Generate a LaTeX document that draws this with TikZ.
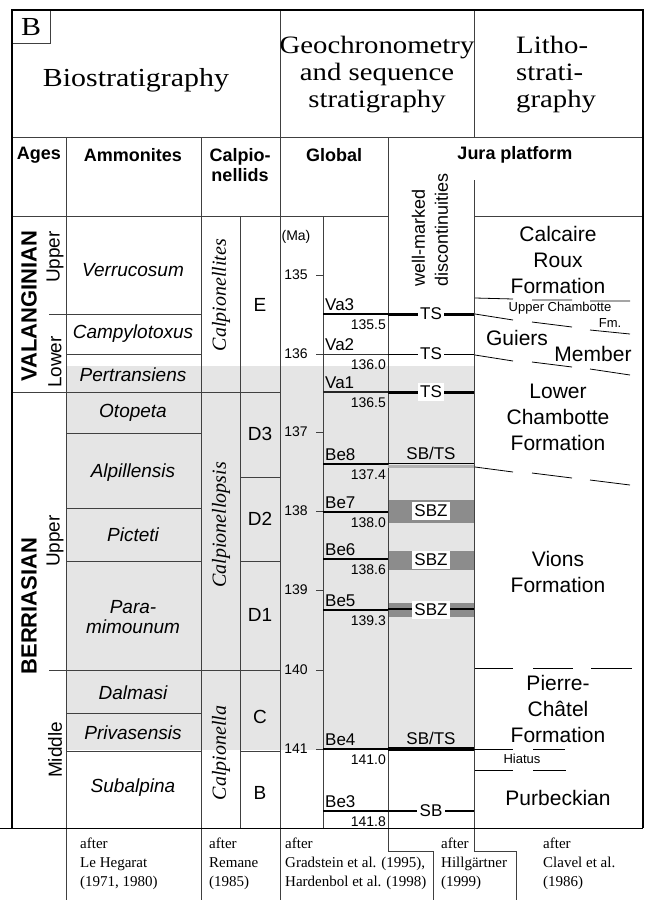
\documentclass[tikz,border=0pt]{standalone}
\usepackage{fontspec}
\setmainfont{Liberation Serif}
\newfontfamily\serw[FakeStretch=1.15]{Liberation Serif}
\newfontfamily\sans{Liberation Sans}
\newcommand{\fsz}[2]{\fontsize{#1}{#2}\selectfont}
\tikzset{
 ln/.style={line width=0.9pt, draw=black!75},
 frm/.style={line width=1.3pt, draw=black},
 hdr/.style={font=\serw\fsz{25}{27}, align=center, inner sep=0pt},
 colh/.style={font=\sans\bfseries\fsz{18}{20}, align=center, inner sep=0pt},
 amm/.style={font=\sans\itshape\fsz{19}{20}, align=center, inner sep=0pt},
 zone/.style={font=\sans\fsz{19}{20}, inner sep=0pt},
 genus/.style={font=\itshape\fsz{20}{20}, rotate=90, inner sep=0pt},
 agebig/.style={font=\sans\bfseries\fsz{22}{22}, rotate=90, inner sep=0pt},
 agesub/.style={font=\sans\fsz{19}{19}, rotate=90, inner sep=0pt},
 tick/.style={font=\sans\fsz{14}{14}, inner sep=0pt},
 seqn/.style={font=\sans\fsz{17}{17}, inner sep=0pt, anchor=base west},
 seqv/.style={font=\sans\fsz{14}{14}, inner sep=0pt, anchor=base east},
 jlab/.style={font=\sans\fsz{17}{17}, fill=white, inner xsep=2.5pt, inner ysep=2.5pt},
 jtop/.style={font=\sans\fsz{17}{17}, inner sep=0pt},
 lith/.style={font=\sans\fsz{21}{26}, align=center, inner sep=0pt},
 lsm/.style={font=\sans\fsz{13}{13}, inner sep=0pt},
 cite/.style={font=\fsz{15}{19}, align=left, anchor=north west, inner sep=0pt},
 dsh/.style={line width=0.8pt, draw=black},
}
\begin{document}
\begin{tikzpicture}[x=1pt,y=-1pt]
\useasboundingbox (0,0) rectangle (647,900);
% shading
\fill[black!10] (66,366) rectangle (474,750);
\fill[black!45] (388,500) rectangle (474,523);
\fill[black!45] (388,551) rectangle (474,570);
\fill[black!45] (388,603) rectangle (474,617);
% header lines
\draw[ln] (12,137) -- (643,137);
\draw[ln] (280,10) -- (280,137);
\draw[ln] (474,10) -- (474,137);
\draw[ln] (12,10) rectangle (50,43);
\draw[ln] (12,216) -- (388,216);
\draw[ln] (474,216) -- (643,216);
% column verticals
\draw[ln] (66,137) -- (66,900);
\draw[ln] (201,137) -- (201,900);
\draw[ln] (280,137) -- (280,900);
\draw[ln] (388,137) -- (388,851) -- (433,851) -- (433,900);
\draw[ln] (474,180) -- (474,851) -- (516,851) -- (516,900);
\draw[ln] (240,216) -- (240,828);
\draw[ln] (323,216) -- (323,828);
% ages column
\draw[ln] (12,392) -- (280,392);
\draw[ln] (49,314) -- (201,314);
\draw[ln] (49,670) -- (280,670);
% ammonites
\foreach \yy in {354,433,508,561,713,751} \draw[ln] (66,\yy) -- (201,\yy);
% calpionellid zones
\foreach \yy in {477,561,751} \draw[ln] (240,\yy) -- (280,\yy);
% ticks
\foreach \yy/\lab in {275/135,354/136,432/137,511/138,590/139,670/140,749/141}{
  \draw[ln] (316,\yy) -- (323,\yy);
  \node[tick] at (296,\yy) {\lab};
}
\node[tick] at (296,237) {(Ma)};
% sequences global
\draw[line width=1.6pt] (323,314) -- (388,314);
\draw[line width=0.9pt, black!80] (323,354) -- (388,354);
\draw[line width=1.6pt, black!85] (323,392) -- (388,392);
\foreach \yy in {464,512,559,610,749,811} \draw[line width=1.4pt] (323,\yy) -- (388,\yy);
\foreach \yy/\nm/\vl in {314/Va3/135.5,354/Va2/136.0,392/Va1/136.5,464/Be8/137.4,512/Be7/138.0,559/Be6/138.6,610/Be5/139.3,749/Be4/141.0,811/Be3/141.8}{
  \node[seqn] at (325,\yy-3.5) {\nm};
  \node[seqv] at (386,\yy+15) {\vl};
}
% Jura discontinuities
\draw[line width=3pt] (388,314) -- (474,314);
\draw[line width=0.9pt] (388,354) -- (474,354);
\draw[line width=3pt] (388,392) -- (474,392);
\draw[line width=2.5pt, black!30] (388,466.5) -- (474,466.5);
\draw[line width=1.5pt] (388,463.5) -- (474,463.5);
\draw[line width=1.5pt] (388,609) -- (474,609);
\draw[line width=4pt] (388,749) -- (474,749);
\draw[line width=2pt] (388,811) -- (474,811);
\node[jlab] at (431,314) {TS};
\node[jlab] at (431,354) {TS};
\node[jlab] at (431,392) {TS};
\node[jtop] at (431,453) {SB/TS};
\node[jlab] at (431,511) {SBZ};
\node[jlab] at (431,560) {SBZ};
\node[jlab] at (431,610) {SBZ};
\node[jtop] at (431,738) {SB/TS};
\node[jlab] at (431,811) {SB};
\node[font=\sans\fsz{18}{23}, rotate=90, anchor=west, align=left, inner sep=0pt] at (430,287) {well-marked\\discontinuities};
% lithostratigraphy dashes
\draw[dsh] (475,298) -- (513,299) (532,300) -- (572,300) (590,301) -- (630,301);
\draw[dsh] (475,314) -- (513,320) (532,322) -- (572,327) (590,330) -- (630,334);
\draw[dsh] (475,355) -- (513,361) (532,362) -- (572,367) (590,369) -- (630,375);
\draw[dsh] (475,467) -- (513,472) (532,473) -- (572,478) (590,480) -- (630,485);
\draw[dsh] (475,668) -- (513,668) (533,668) -- (573,668) (591,668) -- (632,668);
\draw[dsh] (474,749) -- (513,749) (533,749) -- (565,749);
\draw[dsh] (475,770) -- (513,770) (533,770) -- (566,770);
% frame
\draw[frm] (12,828) -- (12,10) -- (643,10) -- (643,828);
\draw[line width=1.5pt] (0,828.5) -- (643,828.5);
% header texts
\node[font=\serw\fsz{26}{26}, inner sep=0pt] at (31,27) {B};
\node[hdr, font=\serw\fsz{26}{27}] at (136,80) {Biostratigraphy};
\node[hdr] at (377,75) {Geochronometry\\and sequence\\stratigraphy};
\node[hdr, align=left, anchor=west] at (516,75) {Litho-\\strati-\\graphy};
\node[colh] at (39,155) {Ages};
\node[colh] at (133,155) {Ammonites};
\node[colh] at (240,165) {Calpio-\\nellids};
\node[colh] at (334,155) {Global};
\node[colh] at (515,155) {Jura platform};
% ages
\node[agebig] at (29,306) {VALANGINIAN};
\node[agebig] at (29,606) {BERRIASIAN};
\node[agesub] at (55,257) {Upper};
\node[agesub] at (55,362) {Lower};
\node[agesub] at (55,541) {Upper};
\node[agesub] at (55,750) {Middle};
% ammonites
\node[amm] at (133,270) {Verrucosum};
\node[amm] at (133,334) {Campylotoxus};
\node[amm] at (133,375) {Pertransiens};
\node[amm] at (133,413) {Otopeta};
\node[amm] at (133,473) {Alpillensis};
\node[amm] at (133,535) {Picteti};
\node[amm] at (133,617) {Para-\\mimounum};
\node[amm] at (133,693) {Dalmasi};
\node[amm] at (133,733) {Privasensis};
\node[amm] at (133,788) {Subalpina};
% calpionellids
\node[genus] at (221,295) {Calpionellites};
\node[genus] at (221,525) {Calpionellopsis};
\node[genus] at (221,753) {Calpionella};
\node[zone] at (260,305) {E};
\node[zone] at (260,434) {D3};
\node[zone] at (260,519) {D2};
\node[zone] at (260,615) {D1};
\node[zone] at (260,717) {C};
\node[zone] at (260,793) {B};
% lithostratigraphy texts
\node[lith] at (558,260) {Calcaire\\Roux\\Formation};
\node[lsm] at (560,308) {Upper Chambotte};
\node[lsm] at (610,323) {Fm.};
\node[lith] at (517,338) {Guiers};
\node[lith] at (593,354) {Member};
\node[lith] at (558,417) {Lower\\Chambotte\\Formation};
\node[lith] at (558,572) {Vions\\Formation};
\node[lith] at (558,709) {Pierre-\\Ch\^atel\\Formation};
\node[lsm] at (522,759) {Hiatus};
\node[lith] at (558,798) {Purbeckian};
% citations
\node[cite] at (80,838) {after\\Le Hegarat\\(1971, 1980)};
\node[cite] at (209,838) {after\\Remane\\(1985)};
\node[cite] at (285,838) {after\\Gradstein et al. (1995),\\Hardenbol et al. (1998)};
\node[cite] at (441,838) {after\\Hillgärtner\\(1999)};
\node[cite] at (543,838) {after\\Clavel et al.\\(1986)};
\end{tikzpicture}
\end{document}
